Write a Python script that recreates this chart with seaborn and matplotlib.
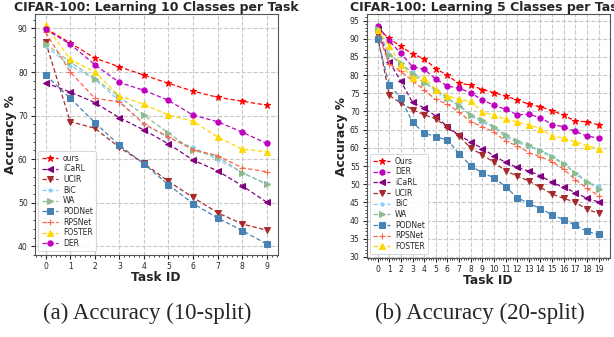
import numpy as np
import pandas as pd
import matplotlib
matplotlib.use("Agg")
import matplotlib.pyplot as plt
import seaborn as sns

# ---- data ----
tasks_10 = list(range(10))
tasks_20 = list(range(20))

acc10 = {
    "ours":   [90.0, 86.7, 83.2, 81.2, 79.3, 77.4, 75.6, 74.2, 73.3, 72.4],
    "iCaRL":  [77.5, 75.4, 73.0, 69.5, 66.7, 63.5, 59.8, 57.3, 53.9, 50.1],
    "UCIR":   [86.9, 68.6, 67.1, 62.7, 59.0, 54.9, 51.2, 47.7, 45.1, 43.7],
    "BiC":    [85.9, 81.5, 78.3, 73.4, 68.0, 64.9, 62.7, 59.9, 56.9, 54.2],
    "WA":     [86.4, 82.3, 78.5, 74.3, 70.1, 66.0, 62.0, 60.6, 56.9, 54.3],
    "PODNet": [79.3, 74.0, 68.4, 63.2, 58.9, 54.1, 49.8, 46.5, 43.6, 40.5],
    "RPSNet": [89.1, 80.0, 74.0, 73.1, 68.1, 65.1, 62.2, 60.8, 58.0, 57.1],
    "FOSTER": [90.8, 82.9, 80.0, 74.5, 72.6, 70.1, 68.7, 65.1, 62.3, 61.7],
    "DER":    [89.8, 86.4, 81.7, 77.6, 75.8, 73.5, 70.1, 68.6, 66.2, 63.6],
}

acc20 = {
    "Ours":   [92.8, 90.1, 87.9, 85.8, 84.5, 81.8, 79.9, 77.7, 77.3, 76.0,
               75.2, 74.2, 73.2, 72.0, 71.3, 70.2, 69.0, 67.3, 67.2, 66.3],
    "DER":    [93.6, 89.4, 86.0, 82.3, 81.6, 78.9, 77.0, 76.4, 75.1, 73.2,
               71.7, 70.6, 69.1, 69.2, 68.3, 66.4, 65.8, 64.5, 63.2, 62.7],
    "iCaRL":  [92.6, 83.7, 78.3, 72.5, 71.0, 68.7, 65.8, 63.5, 61.6, 59.8,
               57.8, 56.0, 54.6, 53.6, 52.3, 50.5, 49.1, 47.7, 46.1, 45.1],
    "UCIR":   [91.0, 74.4, 72.3, 70.5, 69.1, 68.0, 65.6, 63.3, 59.9, 58.1,
               56.0, 53.7, 52.2, 50.9, 49.1, 47.3, 46.1, 45.0, 43.1, 42.0],
    "BiC":    [92.5, 85.8, 83.1, 80.8, 78.5, 75.5, 73.3, 72.0, 68.8, 67.0,
               65.6, 62.9, 61.5, 60.3, 59.4, 57.8, 55.7, 52.8, 50.5, 49.5],
    "WA":     [92.8, 85.6, 83.2, 80.3, 77.8, 76.0, 73.7, 71.5, 69.0, 67.6,
               65.8, 63.5, 61.9, 60.7, 59.0, 57.4, 55.5, 53.2, 50.7, 48.6],
    "PODNet": [89.8, 77.3, 73.7, 67.0, 64.1, 63.0, 62.2, 58.4, 55.1, 53.1,
               51.8, 49.3, 46.3, 44.7, 43.3, 41.6, 40.2, 38.7, 37.0, 36.2],
    "RPSNet": [91.5, 83.1, 81.0, 78.5, 75.9, 73.3, 72.0, 69.8, 67.2, 65.8,
               64.4, 61.8, 60.6, 58.7, 57.5, 56.2, 54.1, 51.2, 48.9, 46.8],
    "FOSTER": [92.4, 88.1, 82.8, 79.2, 79.2, 76.0, 74.3, 73.3, 72.8, 69.9,
               68.9, 67.9, 67.1, 66.3, 65.3, 63.2, 62.7, 61.6, 60.6, 59.8],
}

style = {
    "ours":   ("red", "*", 5),
    "Ours":   ("red", "*", 5),
    "iCaRL":  ("purple", "<", 4),
    "UCIR":   ("brown", "v", 4),
    "BiC":    ("lightskyblue", "*", 3),
    "WA":     ("darkseagreen", ">", 4),
    "PODNet": ("steelblue", "s", 4),
    "RPSNet": ("tomato", "+", 4),
    "FOSTER": ("gold", "^", 4),
    "DER":    ("m", "o", 3.8),
}

sns.set_style("ticks")


def draw(ax, tasks, acc, title):
    for name, vals in acc.items():
        c, m, ms = style[name]
        n = len(ax.lines)
        sns.lineplot(x=tasks, y=vals, ax=ax, color=c, marker=m, markersize=ms,
                     markeredgecolor=c, linewidth=0.9, label=name)
        for ln in ax.lines[n:]:
            ln.set_linestyle((0, (3.5, 2)))
    ax.set_title(title, fontsize=9, fontweight="bold", pad=2)
    ax.set_xlabel("Task ID", fontsize=8.8, fontweight="bold", labelpad=0)
    ax.set_ylabel("Accuracy %", fontsize=8.8, fontweight="bold", labelpad=1)
    ax.set_xticks(tasks)
    ax.minorticks_on()
    ax.tick_params(which="major", labelsize=5.5, length=3, pad=2)
    ax.tick_params(which="minor", length=1.5)
    ax.grid(True, which="major", linestyle="--", color="#c8c8c8", linewidth=0.8)
    for s in ax.spines.values():
        s.set_color("#555555")
        s.set_linewidth(0.8)
    leg = ax.legend(loc="lower left", fontsize=5.5, handlelength=2.2,
                    borderpad=0.4, labelspacing=0.22, handletextpad=0.6,
                    framealpha=0.9)
    for h in leg.get_lines():
        h.set_linestyle((0, (3.5, 2)))
    leg.get_frame().set_linewidth(0.6)


fig = plt.figure(figsize=(6.14, 3.37), dpi=100)
ax1 = fig.add_axes([0.0564, 0.2433, 0.396, 0.715])
ax2 = fig.add_axes([0.597, 0.2344, 0.396, 0.724])

draw(ax1, tasks_10, acc10, "CIFAR-100: Learning 10 Classes per Task")
draw(ax2, tasks_20, acc20, "CIFAR-100: Learning 5 Classes per Task")
ax2.set_ylim(29.7, 96.8)
ax2.set_yticks(range(30, 100, 5))

fig.text(147 / 614, 1 - 313 / 337, "(a) Accuracy (10-split)", ha="center",
         va="center", fontsize=16.5, family="Liberation Serif")
fig.text(480 / 614, 1 - 313 / 337, "(b) Accuracy (20-split)", ha="center",
         va="center", fontsize=16.5, family="Liberation Serif")

fig.savefig("out.png", dpi=100)
